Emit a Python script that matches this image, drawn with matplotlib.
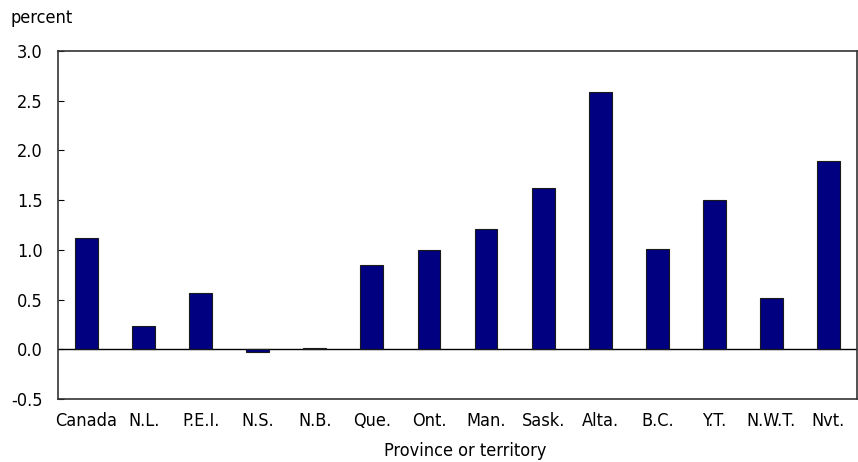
import matplotlib.pyplot as plt
from matplotlib import font_manager

regions = ["Canada", "N.L.", "P.E.I.", "N.S.", "N.B.", "Que.", "Ont.",
           "Man.", "Sask.", "Alta.", "B.C.", "Y.T.", "N.W.T.", "Nvt."]
growth = [1.12, 0.23, 0.57, -0.03, 0.01, 0.85, 1.00,
          1.21, 1.62, 2.59, 1.01, 1.50, 0.52, 1.89]
yticks = [-0.5, 0.0, 0.5, 1.0, 1.5, 2.0, 2.5, 3.0]

# look for a narrow face, the original uses a condensed sans
narrow = None
for f in font_manager.fontManager.ttflist:
    n = (f.name + " " + f.fname).lower()
    if ("narrow" in n or "condensed" in n) and "bold" not in n and "italic" not in n and "oblique" not in n:
        narrow = f.fname
        break

if narrow:
    fp = font_manager.FontProperties(fname=narrow, size=13)
else:
    fp = font_manager.FontProperties(family="Liberation Sans", size=12.5)

fig = plt.figure(figsize=(8.58, 4.62), dpi=100)
ax = fig.add_axes([58 / 858, 63 / 462, 799 / 858, 348 / 462])

x = list(range(len(regions)))
ax.bar(x, growth, width=0.4, color="#000080", edgecolor="#1a1a1a", linewidth=0.8, zorder=3)
ax.axhline(0, color="black", linewidth=1, zorder=2)

ax.set_xlim(-0.5, len(regions) - 0.5)
ax.set_ylim(-0.5, 3.0)
ax.set_yticks(yticks)
ax.set_yticklabels([f"{v:.1f}" for v in yticks], fontproperties=fp)
ax.set_xticks(x)
ax.set_xticklabels(regions, fontproperties=fp)
ax.tick_params(axis="y", direction="in", length=4, pad=11)
ax.tick_params(axis="x", length=0, pad=9)

for s in ax.spines.values():
    s.set_color("#333333")
    s.set_linewidth(1.2)

fig.text(11 / 858, 1 - 18 / 462, "percent", ha="left", va="center", fontproperties=fp)
fig.text(465 / 858, 1 - 451 / 462, "Province or territory", ha="center", va="center", fontproperties=fp)

fig.savefig("out.png", dpi=100)
